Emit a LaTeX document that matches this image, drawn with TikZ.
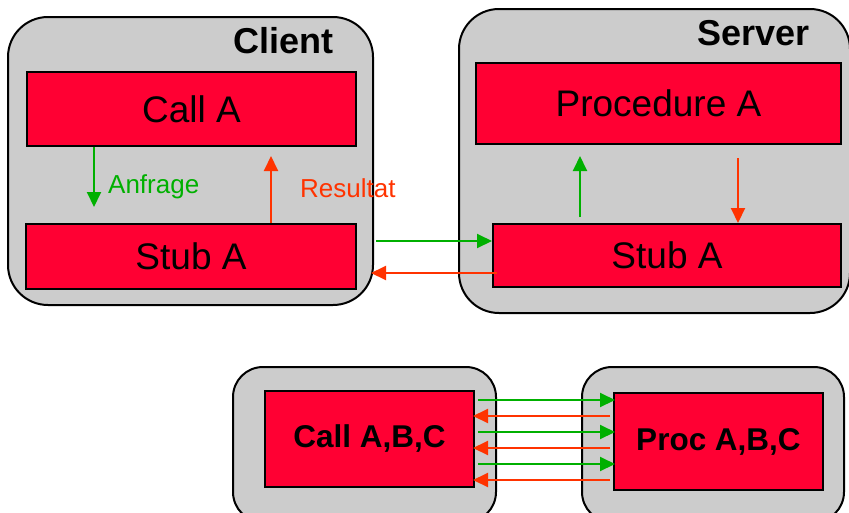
\documentclass[tikz,border=0pt]{standalone}
\usepackage{fontspec}
\setmainfont{Liberation Sans}
\usetikzlibrary{arrows.meta,calc,positioning}

\definecolor{boxred}{HTML}{FF0033}
\definecolor{panelgray}{HTML}{CCCCCC}
\definecolor{reqgreen}{HTML}{00B000}
\definecolor{resred}{HTML}{FF3300}

\tikzset{
  panel/.style={draw, line width=2pt, fill=panelgray, rounded corners=40pt, inner sep=0pt},
  block/.style={draw, line width=2pt, fill=boxred, inner sep=0pt, font=\fontsize{37}{40}\selectfont},
  smallblock/.style={block, font=\bfseries\fontsize{31.5}{34}\selectfont},
  title/.style={anchor=base east, inner sep=0pt, font=\bfseries\fontsize{36}{40}\selectfont},
  reqarrow/.style={draw=reqgreen, line width=2pt, -{Triangle[length=15pt,width=14pt]}},
  resarrow/.style={draw=resred, line width=2pt, -{Triangle[length=15pt,width=14pt]}}
}

\begin{document}
\begin{tikzpicture}[x=1pt, y=-1pt]
		\path[use as bounding box, clip] (0,0) rectangle (849,512);
		
		% Draw the client and server panels
		\node (client) [panel, minimum width=365pt, minimum height=288pt] at (190.5,161) {};
		\node (server) [panel, minimum width=391pt, minimum height=304pt] at (654.5,161) {};
		\node [title] at (334,53) {Client};
		\node [title] at (810,45) {Server};
		
		% Draw the blocks inside the client
		\node (callA) [block, minimum width=329pt, minimum height=74pt] at (191.5,109) {Call A};
		\node (stubC) [block, minimum width=330pt, minimum height=65pt] at (191,256.5) {Stub A};
		
		% Draw the blocks inside the server
		\node (procA) [block, minimum width=365pt, minimum height=81pt] at (658.5,103.5) {Procedure A};
		\node (stubS) [block, minimum width=348pt, minimum height=63pt] at (667,255.5) {Stub A};
		
		% Arrows inside the client
		\draw[reqarrow, shorten >=16pt] ($(callA.south west)+(68,0)$) -- ($(stubC.north west)+(69,0)$);
		\draw[resarrow, shorten >=9pt] ($(stubC.north west)+(246,0)$) -- ($(callA.south west)+(245,0)$);
		\node [anchor=base west, inner sep=0pt, text=reqgreen, font=\fontsize{26}{30}\selectfont] at (108,193) {Anfrage};
		\node [anchor=base west, inner sep=0pt, text=resred, font=\fontsize{26}{30}\selectfont] at (300,197) {Resultat};
		
		% Arrows inside the server
		\draw[reqarrow, shorten <=6pt, shorten >=11pt] ($(stubS.north west)+(88,0)$) -- ($(procA.south west)+(105,0)$);
		\draw[resarrow, shorten <=13pt] ($(procA.south west)+(263,0)$) -- ($(stubS.north west)+(246,0)$);
		
		% Connect client and server
		\coordinate (req) at ($(stubS.west)+(0,-14.5)$);
		\coordinate (res) at ($(stubS.west)+(0,17.5)$);
		\draw[reqarrow, shorten <=2pt] (req -| client.east) -- (req);
		\draw[resarrow, shorten <=-5pt, shorten >=-3pt] (res) -- (res -| client.east);
		
		% Draw the lower pair
		\node (callpanel) [panel, rounded corners=30pt, minimum width=263pt, minimum height=155pt] at (364.5,444.5) {};
		\node (procpanel) [panel, rounded corners=30pt, minimum width=262pt, minimum height=155pt] at (713,444.5) {};
		\node (callABC) [smallblock, minimum width=209pt, minimum height=96pt] at (369.5,439) {Call A,B,C};
		\node (procABC) [smallblock, minimum width=209pt, minimum height=97pt] at (718.5,441.5) {Proc A,B,C};
		
		% Three calls and three results
		\foreach \dy in {-39,-7,25} {
			\coordinate (g) at ($(callABC.east)+(0,\dy)$);
			\draw[reqarrow, shorten <=3pt, shorten >=-2pt] (g) -- (g -| procABC.west);
		}
		\foreach \dy in {-23,9,41} {
			\coordinate (r) at ($(callABC.east)+(0,\dy)$);
			\draw[resarrow, shorten <=3pt, shorten >=-2pt] (r -| procABC.west) -- (r);
		}
	\end{tikzpicture}
\end{document}
